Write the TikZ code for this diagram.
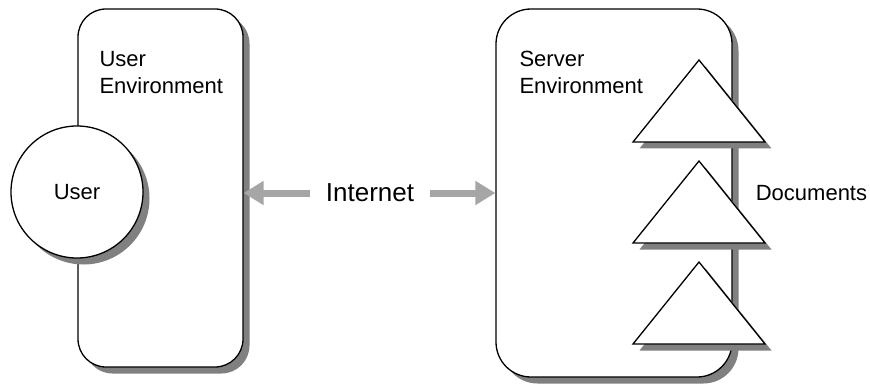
\documentclass[tikz,border=0pt]{standalone}
\usepackage{fontspec}
\setmainfont{Liberation Sans}
\usetikzlibrary{shapes,positioning,shadows,arrows.meta}

\begin{document}
\begin{tikzpicture}[x=1pt,y=-1pt]

  \tikzstyle{dropshade} = [drop shadow={shadow xshift=6.5pt, shadow yshift=-6.5pt, fill=black!50, opacity=1}]
  \tikzstyle{envbox} = [line width=1.3pt, draw=black, fill=white, rectangle, inner sep=0pt, dropshade]
  \tikzstyle{lbl} = [font=\fontsize{22}{27}\selectfont, inner sep=0pt, align=left]
  \tikzstyle{netarrow} = [line width=7pt, draw=black!35, -{Triangle[length=20pt,width=23pt]}]

  \useasboundingbox (0,0) rectangle (870,385);

  % the two environments
  \node[envbox, rounded corners=28pt, minimum width=165pt, minimum height=358pt] (userenv) at (160.5,188) {};
  \node[envbox, rounded corners=35pt, minimum width=236pt, minimum height=368pt] (serverenv) at (614,193) {};
  \node[lbl, anchor=north west] (userlbl) at ([shift={(22pt,-43pt)}]userenv.north west) {User\\Environment};
  \node[lbl, anchor=north west] (serverlbl) at ([shift={(24pt,-43pt)}]serverenv.north west) {Server\\Environment};

  % the user
  \node[envbox, circle, minimum size=132pt, lbl] (user) at (77,192) {User};

  % documents
  \foreach \y in {60,161,262}
    \draw[line width=1.3pt, fill=white, dropshade] (699,\y) -- (765,\y+82) -- (633,\y+82) -- cycle;
  \node[lbl, anchor=west] (docs) at ([xshift=23pt]serverenv.east) {Documents};

  % internet
  \node[font=\fontsize{26}{31}\selectfont, inner sep=0pt, outer xsep=16pt] (inet) at (370,193) {Internet};
  \draw[netarrow] (inet.west) -- (inet.west -| userenv.east);
  \draw[netarrow] (inet.east) -- (inet.east -| serverenv.west);

\end{tikzpicture}
\end{document}
